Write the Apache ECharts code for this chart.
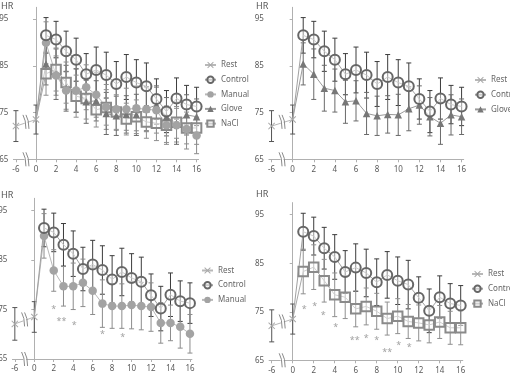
<!DOCTYPE html>
<html><head><meta charset="utf-8">
<script src="https://cdn.jsdelivr.net/npm/echarts@6/dist/echarts.min.js"></script>
<style>html,body{margin:0;padding:0;background:#fff}#c{width:510px;height:376px}</style>
</head><body><div id="c"></div>
<script>
// ---- data ----
const minutes = [1,2,3,4,5,6,7,8,9,10,11,12,13,14,15,16];
const restMinutes = [-6, 0];
const restHR = [72.1, 73.5];
const restSD = [3.3, 3.1];
const controlHR = [91.5,90.6,88.1,86.3,83.2,84.1,83.0,81.1,82.6,81.4,80.6,77.9,75.2,78.0,76.7,76.3];
const controlSD = [3.8,3.9,4.3,4.6,4.4,4.9,4.9,4.8,4.8,4.9,5.0,4.3,4.5,4.4,4.1,4.1];
const manualHR = [89.9,82.9,79.7,79.7,80.4,78.8,76.2,75.7,75.7,75.9,75.7,75.5,72.3,72.3,71.5,70.1];
const manualSD = [4.5,4.2,4.0,4.7,4.8,4.8,4.8,4.5,4.5,4.8,4.8,4.9,4.1,3.6,4.3,3.9];
const gloveHR = [85.4,83.2,80.2,79.7,77.3,77.5,74.8,74.3,74.6,74.5,75.8,76.6,74.1,72.7,74.5,74.1];
const gloveSD = [4.5,5.4,4.9,4.6,4.6,4.3,4.5,4.2,4.0,4.4,4.7,4.1,4.1,4.5,4.3,3.8];
const naclHR = [83.3,84.2,81.4,78.5,78.0,75.6,76.1,75.1,73.6,74.1,73.0,72.7,72.3,72.9,71.7,71.7];
const naclSD = [4.6,4.6,4.4,4.5,4.4,3.7,3.8,3.7,3.4,3.6,3.5,3.7,3.7,3.4,3.4,3.5];
const xTickLabels = [-6,0,2,4,6,8,10,12,14,16];
const yTickLabels = [65,75,85,95];
const sigManual = [[2,75.6,'*'],[2.8,73.2,'**'],[4.1,72.3,'*'],[7,70.5,'*'],[9.1,69.9,'*'],[16.6,66.3,'*']];
const sigNaCl = [[1.1,75.9,'*'],[2.1,76.7,'*'],[2.9,74.7,'*'],[4.1,72.3,'*'],[5.9,69.6,'**'],[7,70.1,'*'],[8,69.7,'*'],[9,67.1,'**'],[10.1,68.6,'*'],[11.1,68.2,'*']];
const breakLine = [[-1.1, 73.0]];
const breakAxis = [[-1.1, 65]];

// broken axis: the -6 minute reading sits in the slot at position -2
function axisPos(m){ return m < 0 ? -2 : m; }
const xTickPos = xTickLabels.map(axisPos);
const posToLabel = {}; xTickLabels.forEach((l,i)=>posToLabel[xTickPos[i]] = String(l));

const FONT = 'Noto Sans';
const grids = [
  {left:13.4, top:7.3, width:185.2, height:152},
  {left:268.9, top:7.3, width:194.8, height:152},
  {left:12.4, top:198.3, width:179.5, height:160.7},
  {left:269.1, top:202.6, width:193.7, height:157.7}
].map(g=>Object.assign({outerBoundsMode:'none', containLabel:false}, g));

const xAxes = grids.map((g,i)=>({
  type:'value', gridIndex:i, min:-2.25, max:16.2,
  splitLine:{show:false},
  axisLine:{show:true, lineStyle:{color:'#b0b0b0', width:1}},
  axisTick:{show:true, length:3, inside:false, customValues:xTickPos, lineStyle:{color:'#b0b0b0'}},
  axisLabel:{customValues:xTickPos, formatter:v=>posToLabel[v] !== undefined ? posToLabel[v] : '', fontSize:8, color:'#595959', fontFamily:FONT, margin:6}
}));
const yAxes = grids.map((g,i)=>({
  type:'value', gridIndex:i, min:65, max:97.5,
  splitLine:{show:false},
  axisLine:{show:true, lineStyle:{color:'#b0b0b0', width:1}},
  axisTick:{show:true, length:3, customValues:yTickLabels, lineStyle:{color:'#b0b0b0'}},
  axisLabel:{customValues:yTickLabels, fontSize:8, color:'#595959', fontFamily:FONT, margin:5}
}));

const crossPath = 'path://M0,1 L1,0 L5,4 L9,0 L10,1 L6,5 L10,9 L9,10 L5,6 L1,10 L0,9 L4,5 Z';

const styles = {
  Rest:    {symbol:crossPath, size:7, item:{color:'#a8a8a8'}, line:'#b8b8b8', err:'#555555'},
  Control: {symbol:'circle', size:10, item:{color:'rgba(255,255,255,0.45)', borderColor:'#666666', borderWidth:2}, line:'#a0a0a0', err:'#3c3c3c'},
  Manual:  {symbol:'circle', size:8.5, item:{color:'#a3a3a3'}, line:'#b8b8b8', err:'#8c8c8c'},
  Glove:   {symbol:'triangle', size:7.5, item:{color:'#777777'}, line:'#9a9a9a', err:'#6a6a6a'},
  NaCl:    {symbol:'rect', size:9.5, item:{color:'rgba(255,255,255,0.45)', borderColor:'#8a8a8a', borderWidth:2}, line:'#a8a8a8', err:'#8f8f8f'}
};
const seriesData = {
  Control:[controlHR, controlSD], Manual:[manualHR, manualSD], Glove:[gloveHR, gloveSD], NaCl:[naclHR, naclSD]
};

function errRenderer(color){
  return function(params, api){
    const x = api.value(0), lo = api.value(1), hi = api.value(2);
    const a = api.coord([x, hi]), b = api.coord([x, lo]);
    const w = 2.5;
    const st = {stroke:color, lineWidth:1, fill:null};
    return {type:'group', children:[
      {type:'line', shape:{x1:a[0], y1:a[1], x2:b[0], y2:b[1]}, style:st},
      {type:'line', shape:{x1:a[0]-w, y1:a[1], x2:a[0]+w, y2:a[1]}, style:st},
      {type:'line', shape:{x1:b[0]-w, y1:b[1], x2:b[0]+w, y2:b[1]}, style:st}
    ]};
  };
}
function breakRenderer(params, api){
  const p = api.coord([api.value(0), api.value(1)]);
  const x = p[0], y = p[1];
  const h = 7;
  return {type:'group', children:[
    {type:'polygon', shape:{points:[[x-2,y-h],[x+1,y-h],[x+4,y+h],[x+1,y+h]]}, style:{fill:'#fff'}},
    {type:'bezierCurve', shape:{x1:x-2, y1:y-h, x2:x+1, y2:y+h, cpx1:x+1, cpy1:y-2}, style:{stroke:'#8a8a8a', lineWidth:1, fill:null}},
    {type:'bezierCurve', shape:{x1:x+1, y1:y-h, x2:x+4, y2:y+h, cpx1:x+4, cpy1:y-2}, style:{stroke:'#8a8a8a', lineWidth:1, fill:null}}
  ]};
}

const panels = [
  ['Control','Manual','Glove','NaCl'],
  ['Control','Glove'],
  ['Control','Manual'],
  ['Control','NaCl']
];
const sigs = [null, null, sigManual, sigNaCl];

const series = [];
panels.forEach((names, gi)=>{
  const ax = {xAxisIndex:gi, yAxisIndex:gi};
  const restErr = restMinutes.map((m,i)=>[axisPos(m), restHR[i]-restSD[i], restHR[i]+restSD[i]]);
  series.push(Object.assign({type:'custom', name:'err-Rest-'+gi, renderItem:errRenderer(styles.Rest.err), data:restErr, encode:{x:0,y:[1,2]}, z:1, silent:true}, ax));
  names.forEach(n=>{
    const [hr, sd] = seriesData[n];
    series.push(Object.assign({type:'custom', name:'err-'+n+'-'+gi, renderItem:errRenderer(styles[n].err),
      data:minutes.map((m,i)=>[m, hr[i]-sd[i], hr[i]+sd[i]]), encode:{x:0,y:[1,2]}, z:1, silent:true}, ax));
  });
  const restStart = [axisPos(restMinutes[1]), restHR[1]];
  names.slice().reverse().forEach(n=>{
    const s = styles[n];
    const [hr] = seriesData[n];
    series.push(Object.assign({type:'line', name:n, symbol:s.symbol, symbolSize:s.size, itemStyle:s.item,
      lineStyle:{color:s.line, width:1}, z:3, animation:false,
      data:[{value:restStart, symbol:'none'}].concat(minutes.map((m,i)=>[m, hr[i]]))}, ax));
  });
  const r = styles.Rest;
  series.push(Object.assign({type:'line', name:'Rest', symbol:r.symbol, symbolSize:r.size, itemStyle:r.item,
    lineStyle:{color:r.line, width:1}, z:4, animation:false,
    data:restMinutes.map((m,i)=>[axisPos(m), restHR[i]])}, ax));
  series.push(Object.assign({type:'custom', name:'brk-'+gi, renderItem:breakRenderer, data:breakLine.concat(breakAxis), z:5, silent:true, clip:false}, ax));
  if (sigs[gi]) {
    series.push(Object.assign({type:'scatter', name:'sig-'+gi, symbolSize:0.1, data:sigs[gi], z:6, silent:true,
      label:{show:true, position:'inside', formatter:p=>p.data[2], fontSize:9, color:'#8a8a8a', fontFamily:FONT, offset:[0,2.5]}}, ax));
  }
});

const legendBase = {orient:'vertical', itemWidth:11, itemHeight:8, itemGap:6.5, selectedMode:false,
  textStyle:{fontSize:8, color:'#666', fontFamily:FONT}, padding:0};
const legends = [
  Object.assign({data:['Rest','Control','Manual','Glove','NaCl'], left:204, top:61}, legendBase),
  Object.assign({data:['Rest','Control','Glove'], left:474, top:76}, legendBase),
  Object.assign({data:['Rest','Control','Manual'], left:201, top:266.5}, legendBase),
  Object.assign({data:['Rest','Control','NaCl'], left:471, top:270}, legendBase)
];
const titleBase = {text:'HR', textStyle:{fontSize:9, fontWeight:'normal', color:'#555', fontFamily:FONT}, padding:0};
const titles = [
  Object.assign({left:1, top:2}, titleBase),
  Object.assign({left:256, top:2}, titleBase),
  Object.assign({left:1, top:191}, titleBase),
  Object.assign({left:256, top:190}, titleBase)
];

const chart = echarts.init(document.getElementById('c'), null, {renderer:'canvas'});
chart.setOption({
  animation:false,
  backgroundColor:'#fff',
  title:titles,
  legend:legends,
  grid:grids,
  xAxis:xAxes,
  yAxis:yAxes,
  series:series
});
</script>
</body></html>
